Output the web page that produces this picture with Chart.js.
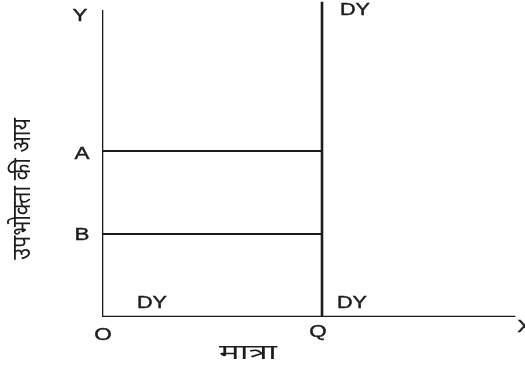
<!DOCTYPE html>
<html>
<head>
<meta charset="utf-8">
<script src="https://cdn.jsdelivr.net/npm/chart.js@4.4.1/dist/chart.umd.min.js"></script>
<style>
  html, body { margin: 0; padding: 0; background: #fff; }
  #wrap { width: 525px; height: 373px; }
</style>
</head>
<body>
<div id="wrap"><canvas id="c"></canvas></div>
<script>
// --------- Data ----------
const xMax = 9.4;
const yMax = 7.6;
const yAxisTop = 7.4;
const qtyQ = 5;           // Q on quantity axis
const incomeA = 4;        // consumer income A
const incomeB = 2;        // consumer income B

const pointNames = ["Y", "A", "B", "O", "Q", "X"];
const pointX = [0, 0, 0, 0, qtyQ, xMax];
const pointY = [yAxisTop, incomeA, incomeB, 0, 0, 0];

const curveLabels = ["DY", "DY", "DY"];
const curveLabelX = [qtyQ, 0, qtyQ];
const curveLabelY = [yMax, 0, 0];

const xTitle = "मात्रा";
const yTitle = "उपभोक्ता की आय";

// --------- Label offsets (px) ----------
const pointOffsets = {
  Y: [-22, 7], A: [-20, 4], B: [-20, 2], O: [1, 19], Q: [-4, 16], X: [9, 11]
};
const curveOffsets = [[33, 9], [50, -13], [30, -13]];

const ink = "#1c1c1c";
const latin = "16px 'Liberation Sans', Arial, sans-serif";
const deva = "'Noto Sans Devanagari', 'Noto Sans', sans-serif";

function wideText(ctx, text, px, py, font, sx, stroke) {
  ctx.save();
  ctx.font = font;
  ctx.translate(px, py);
  ctx.scale(sx, 1);
  ctx.fillText(text, 0, 0);
  if (stroke) {
    ctx.lineWidth = stroke;
    ctx.strokeStyle = ink;
    ctx.strokeText(text, 0, 0);
  }
  ctx.restore();
}

const labelPlugin = {
  id: "labels",
  afterDatasetsDraw(chart) {
    const { ctx, scales: { x, y } } = chart;
    ctx.save();
    ctx.fillStyle = ink;
    ctx.textAlign = "center";
    ctx.textBaseline = "middle";
    pointNames.forEach((name, i) => {
      const off = pointOffsets[name];
      wideText(ctx, name, x.getPixelForValue(pointX[i]) + off[0], y.getPixelForValue(pointY[i]) + off[1], latin, 1.4, 0.4);
    });
    curveLabels.forEach((name, i) => {
      const off = curveOffsets[i];
      wideText(ctx, name, x.getPixelForValue(curveLabelX[i]) + off[0], y.getPixelForValue(curveLabelY[i]) + off[1], latin, 1.35, 0.4);
    });
    // axis titles
    wideText(ctx, xTitle, 248, y.bottom + 38, "21px " + deva, 1.65, 0);
    ctx.translate(25, 189);
    ctx.rotate(-Math.PI / 2);
    wideText(ctx, yTitle, 0, 0, "25px " + deva, 0.86, 0);
    ctx.restore();
  }
};

function seg(x1, y1, x2, y2, w) {
  return {
    data: [{ x: x1, y: y1 }, { x: x2, y: y2 }],
    showLine: true,
    borderColor: ink,
    borderWidth: w,
    pointRadius: 0,
  };
}

new Chart(document.getElementById("c"), {
  type: "scatter",
  data: {
    datasets: [
      seg(0, 0, 0, yAxisTop, 2.6),       // Y axis
      seg(0, 0, xMax, 0, 2.4),           // X axis
      seg(qtyQ, 0, qtyQ, yMax, 2.6),     // DY
      seg(0, incomeA, qtyQ, incomeA, 1.8),
      seg(0, incomeB, qtyQ, incomeB, 1.8),
    ],
  },
  options: {
    responsive: true,
    maintainAspectRatio: false,
    animation: false,
    layout: { padding: { left: 102, right: 9.4, top: 1.6, bottom: 56 } },
    plugins: { legend: { display: false }, tooltip: { enabled: false } },
    scales: {
      x: { type: "linear", display: false, min: 0, max: xMax },
      y: { type: "linear", display: false, min: 0, max: yMax },
    },
  },
  plugins: [labelPlugin],
});
</script>
</body>
</html>
